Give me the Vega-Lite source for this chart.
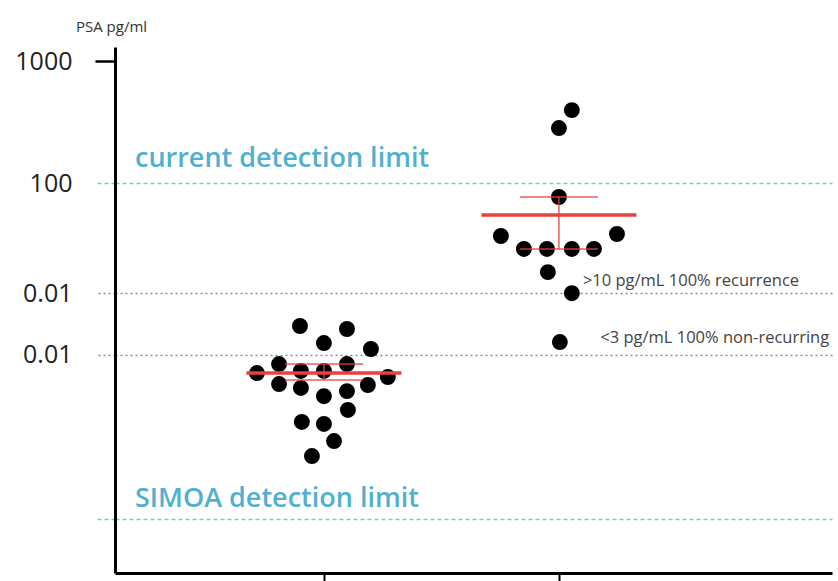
{
  "$schema": "https://vega.github.io/schema/vega-lite/v6.json",
  "width": 717,
  "height": 526,
  "autosize": "none",
  "padding": {"left": 115, "top": 47, "right": 6, "bottom": 8},
  "background": "white",
  "config": {"view": {"stroke": null}, "font": "Open Sans"},
  "datasets": {
    "points": [
      {"group": "A", "x": 0.898, "psa": 6.73},
      {"group": "A", "x": 1.098, "psa": 6.36},
      {"group": "A", "x": 1.0, "psa": 4.88},
      {"group": "A", "x": 1.2, "psa": 4.36},
      {"group": "A", "x": 0.715, "psa": 2.77},
      {"group": "A", "x": 0.809, "psa": 3.28},
      {"group": "A", "x": 0.902, "psa": 2.88},
      {"group": "A", "x": 1.0, "psa": 2.88},
      {"group": "A", "x": 1.098, "psa": 3.28},
      {"group": "A", "x": 1.272, "psa": 2.57},
      {"group": "A", "x": 0.809, "psa": 2.25},
      {"group": "A", "x": 0.902, "psa": 2.09},
      {"group": "A", "x": 1.0, "psa": 1.79},
      {"group": "A", "x": 1.098, "psa": 1.97},
      {"group": "A", "x": 1.187, "psa": 2.21},
      {"group": "A", "x": 1.102, "psa": 1.38},
      {"group": "A", "x": 0.906, "psa": 1.1},
      {"group": "A", "x": 1.0, "psa": 1.06},
      {"group": "A", "x": 1.043, "psa": 0.767},
      {"group": "A", "x": 0.949, "psa": 0.578},
      {"group": "B", "x": 2.055, "psa": 396},
      {"group": "B", "x": 2.0, "psa": 282},
      {"group": "B", "x": 2.0, "psa": 76.8},
      {"group": "B", "x": 1.753, "psa": 36.8},
      {"group": "B", "x": 2.247, "psa": 38.2},
      {"group": "B", "x": 1.851, "psa": 28.8},
      {"group": "B", "x": 1.949, "psa": 28.8},
      {"group": "B", "x": 2.055, "psa": 28.8},
      {"group": "B", "x": 2.149, "psa": 28.8},
      {"group": "B", "x": 1.953, "psa": 18.6},
      {"group": "B", "x": 2.055, "psa": 12.5},
      {"group": "B", "x": 2.004, "psa": 4.97}
    ],
    "stats": [
      {"x": 1, "mean": 2.77, "lo": 2.43, "hi": 3.28},
      {"x": 2, "mean": 54.7, "lo": 28.8, "hi": 76.8}
    ],
    "limits": [
      {"x": 0.196, "y": 135, "label": "current detection limit"},
      {"x": 0.196, "y": 0.22, "label": "SIMOA detection limit"}
    ],
    "notes": [
      {"x": 2.102, "y": 14.3, "label": ">10 pg/mL 100% recurrence"},
      {"x": 2.176, "y": 4.89, "label": "<3 pg/mL 100% non-recurring"}
    ]
  },
  "layer": [
    {
      "data": {"name": "points"},
      "mark": {"type": "circle", "size": 254, "color": "#000000", "opacity": 1},
      "encoding": {
        "x": {
          "field": "x", "type": "quantitative",
          "scale": {"domain": [0.111, 3.162], "nice": false, "zero": false},
          "axis": {
            "values": [1, 2], "labels": false, "title": null, "grid": false,
            "ticks": true, "tickSize": 8, "tickColor": "#000000", "tickWidth": 2,
            "domainColor": "#000000", "domainWidth": 3
          }
        },
        "y": {
          "field": "psa", "type": "quantitative",
          "scale": {"type": "log", "domain": [0.0636, 1303], "nice": false},
          "axis": {
            "values": [1000, 100, 12.5, 3.9, 0.176],
            "labelExpr": "datum.value == 1000 ? '1000' : datum.value == 100 ? '100' : datum.value > 1 ? '0.01' : ''",
            "labelFontSize": 25, "labelColor": "#222222", "labelPadding": 23, "labelFont": "Open Sans",
            "tickSize": 20,
            "tickColor": {"condition": [{"test": "datum.value == 1000", "value": "#000000"}, {"test": "datum.value == 100 || datum.value < 1", "value": "#7cc8da"}], "value": "#8a8a8a"},
            "tickDash": {"condition": [{"test": "datum.value == 1000", "value": []}, {"test": "datum.value == 100 || datum.value < 1", "value": [4, 3]}], "value": [2, 3]},
            "tickWidth": {"condition": {"test": "datum.value == 1000", "value": 2.5}, "value": 1.5},
            "grid": true,
            "gridColor": {"condition": {"test": "datum.value == 100 || datum.value < 1", "value": "#7cc8da"}, "value": "#8a8a8a"},
            "gridDash": {"condition": {"test": "datum.value == 100 || datum.value < 1", "value": [4, 3]}, "value": [2, 3]},
            "gridOpacity": {"condition": {"test": "datum.value == 1000", "value": 0}, "value": 1},
            "gridWidth": 1.5,
            "domainColor": "#000000", "domainWidth": 3,
            "title": "PSA pg/ml", "titleAngle": 0, "titleX": -4, "titleY": -21,
            "titleAlign": "center", "titleBaseline": "middle", "titleFontSize": 15,
            "titleFontWeight": "normal", "titleColor": "#333333", "titleFont": "Open Sans"
          }
        }
      }
    },
    {
      "data": {"name": "stats"},
      "mark": {"type": "tick", "orient": "horizontal", "size": 155, "thickness": 3.5, "color": "#e8413e", "opacity": 1},
      "encoding": {
        "x": {"field": "x", "type": "quantitative"},
        "y": {"field": "mean", "type": "quantitative"}
      }
    },
    {
      "data": {"name": "stats"},
      "mark": {"type": "tick", "orient": "horizontal", "size": 78, "thickness": 1.5, "color": "#e8413e", "opacity": 0.85},
      "encoding": {
        "x": {"field": "x", "type": "quantitative"},
        "y": {"field": "hi", "type": "quantitative"}
      }
    },
    {
      "data": {"name": "stats"},
      "mark": {"type": "tick", "orient": "horizontal", "size": 78, "thickness": 1.5, "color": "#e8413e", "opacity": 0.85},
      "encoding": {
        "x": {"field": "x", "type": "quantitative"},
        "y": {"field": "lo", "type": "quantitative"}
      }
    },
    {
      "data": {"name": "stats"},
      "mark": {"type": "rule", "strokeWidth": 1.5, "color": "#e8413e", "opacity": 0.85},
      "encoding": {
        "x": {"field": "x", "type": "quantitative"},
        "y": {"field": "lo", "type": "quantitative"},
        "y2": {"field": "hi"}
      }
    },
    {
      "data": {"name": "limits"},
      "mark": {"type": "text", "align": "left", "baseline": "alphabetic", "fontSize": 27, "fontWeight": 600, "color": "#52b0cf", "font": "Open Sans"},
      "encoding": {
        "x": {"field": "x", "type": "quantitative"},
        "y": {"field": "y", "type": "quantitative"},
        "text": {"field": "label"}
      }
    },
    {
      "data": {"name": "notes"},
      "mark": {"type": "text", "align": "left", "baseline": "alphabetic", "fontSize": 16.5, "color": "#444444", "font": "Open Sans"},
      "encoding": {
        "x": {"field": "x", "type": "quantitative"},
        "y": {"field": "y", "type": "quantitative"},
        "text": {"field": "label"}
      }
    }
  ]
}
